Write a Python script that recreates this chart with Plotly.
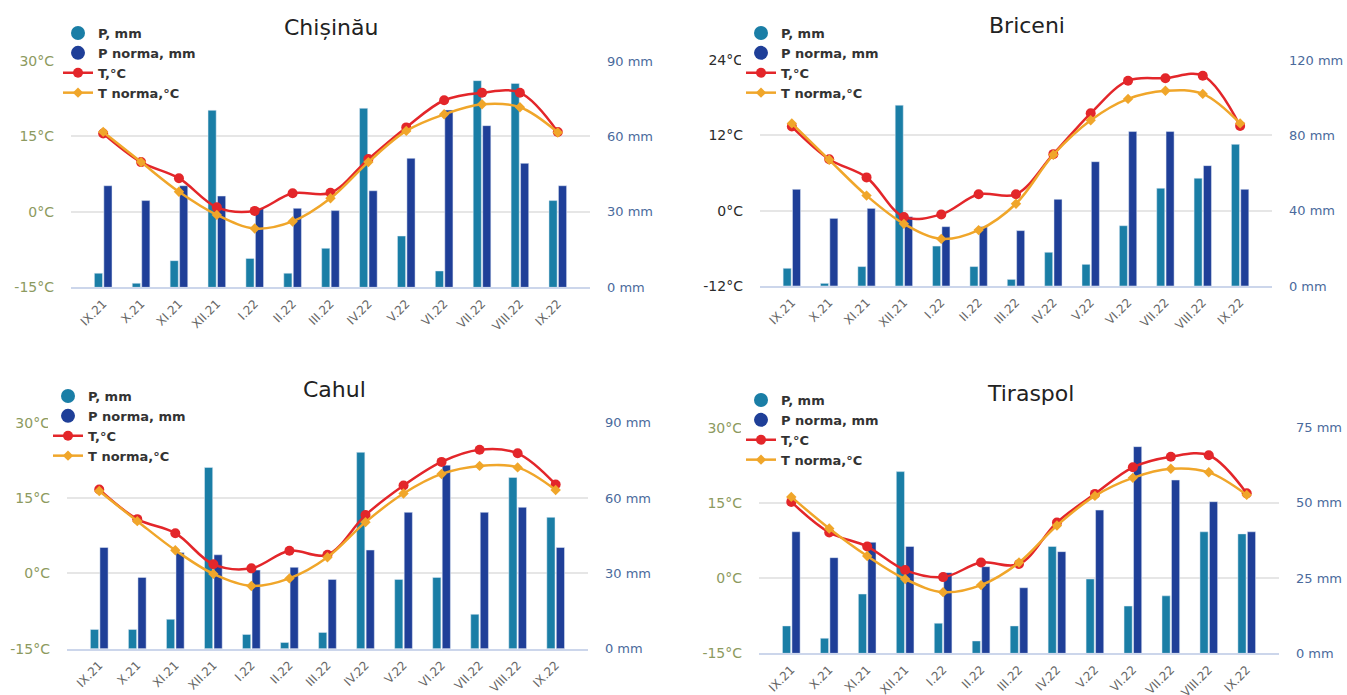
import plotly.graph_objects as go

# Months (Sep 2021 - Sep 2022)
months = ["IX.21", "X.21", "XI.21", "XII.21", "I.22", "II.22", "III.22",
          "IV.22", "V.22", "VI.22", "VII.22", "VIII.22", "IX.22"]

# Chișinău
chis_p = [5.6, 1.6, 10.6, 70.4, 11.5, 5.6, 15.5, 71.2, 20.4, 6.5, 82.2, 81.1, 34.5]
chis_pn = [40.4, 34.5, 40.4, 36.3, 31.4, 31.4, 30.5, 38.4, 51.3, 70.5, 64.3, 49.3, 40.4]
chis_t = [15.6, 9.9, 6.7, 0.9, 0.2, 3.7, 3.8, 10.5, 16.8, 22.2, 23.7, 23.7, 15.9]
chis_tn = [15.9, 9.9, 4.0, -0.6, -3.3, -1.9, 2.7, 9.9, 16.1, 19.4, 21.4, 20.8, 15.8]

# Briceni
bric_p = [9.4, 1.4, 10.3, 96.0, 21.2, 10.3, 3.5, 17.9, 11.5, 32.0, 51.9, 57.2, 75.2]
bric_pn = [51.3, 35.9, 41.2, 36.8, 31.5, 31.5, 29.4, 46.0, 66.0, 82.0, 82.0, 63.9, 51.3]
bric_t = [13.4, 8.2, 5.3, -1.0, -0.6, 2.6, 2.6, 9.0, 15.5, 20.7, 21.1, 21.5, 13.5]
bric_tn = [13.9, 8.1, 2.4, -2.1, -4.5, -3.1, 1.1, 8.9, 14.4, 17.8, 19.1, 18.6, 13.9]

# Cahul
cahul_p = [7.7, 7.7, 11.7, 72.2, 5.7, 2.5, 6.5, 78.2, 27.6, 28.4, 13.7, 68.2, 52.3]
cahul_pn = [40.3, 28.4, 38.3, 37.4, 31.3, 32.4, 27.6, 39.3, 54.3, 73.1, 54.3, 56.3, 40.3]
cahul_t = [16.7, 10.8, 8.0, 1.8, 1.0, 4.5, 3.7, 11.6, 17.5, 22.2, 24.6, 23.9, 17.7]
cahul_tn = [16.4, 10.4, 4.6, -0.1, -2.5, -1.0, 3.2, 10.2, 15.9, 19.8, 21.4, 21.1, 16.6]

# Tiraspol
tir_p = [9.1, 5.0, 19.7, 60.4, 10.0, 4.1, 9.1, 35.5, 24.7, 15.7, 19.1, 40.4, 39.7]
tir_pn = [40.4, 31.8, 36.9, 35.5, 26.8, 28.8, 21.8, 33.8, 47.6, 68.7, 57.6, 50.4, 40.4]
tir_t = [15.2, 9.1, 6.3, 1.6, 0.2, 3.1, 2.8, 11.1, 16.8, 22.1, 24.2, 24.5, 16.9]
tir_tn = [16.2, 9.9, 4.4, -0.2, -2.8, -1.4, 3.1, 10.5, 16.4, 20.0, 21.8, 21.1, 16.6]

# Axis ticks per station
t_ticks_a = [-15, 0, 15, 30]
t_text_a = ["-15°C", "0°C", "15°C", "30°C"]
t_ticks_b = [-12, 0, 12, 24]
t_text_b = ["-12°C", "0°C", "12°C", "24°C"]
p_ticks_90 = [0, 30, 60, 90]
p_text_90 = ["0 mm", "30 mm", "60 mm", "90 mm"]
p_ticks_120 = [0, 40, 80, 120]
p_text_120 = ["0 mm", "40 mm", "80 mm", "120 mm"]
p_ticks_75 = [0, 25, 50, 75]
p_text_75 = ["0 mm", "25 mm", "50 mm", "75 mm"]

C_P = "#1a7ea6"
C_PN = "#1f3f98"
C_T = "#e3262a"
C_TN = "#f0a62a"
FONT = "DejaVu Sans"

stations = [
    dict(name="Chișinău", p=chis_p, pn=chis_pn, t=chis_t, tn=chis_tn,
         tt=t_ticks_a, ttx=t_text_a, pt=p_ticks_90, ptx=p_text_90,
         tcol="#8c9a60", xd=[0.0527, 0.438], yd=[0.5866, 0.9122],
         title_xy=(331, 27), leg_xy=(58, 18)),
    dict(name="Briceni", p=bric_p, pn=bric_pn, t=bric_t, tn=bric_tn,
         tt=t_ticks_b, ttx=t_text_b, pt=p_ticks_120, ptx=p_text_120,
         tcol="#2b2b2b", xd=[0.5642, 0.9443], yd=[0.5885, 0.9137],
         title_xy=(1027, 25), leg_xy=(741, 18)),
    dict(name="Cahul", p=cahul_p, pn=cahul_pn, t=cahul_t, tn=cahul_tn,
         tt=t_ticks_a, ttx=t_text_a, pt=p_ticks_90, ptx=p_text_90,
         tcol="#8c9a60", xd=[0.0497, 0.4365], yd=[0.0666, 0.3918],
         title_xy=(334, 389), leg_xy=(48, 381)),
    dict(name="Tiraspol", p=tir_p, pn=tir_pn, t=tir_t, tn=tir_tn,
         tt=t_ticks_a, ttx=t_text_a, pt=p_ticks_75, ptx=p_text_75,
         tcol="#8c9a60", xd=[0.5635, 0.9495], yd=[0.060, 0.3846],
         title_xy=(1030, 393), leg_xy=(741, 385)),
]

W, H = 1347, 695
fig = go.Figure()
layout = dict(
    width=W, height=H, margin=dict(l=0, r=0, t=0, b=0, autoexpand=False),
    paper_bgcolor="white", plot_bgcolor="white",
    barmode="group", bargap=0.5, bargroupgap=0.14,
    font=dict(family=FONT, color="#333333"),
    annotations=[],
)

for i, s in enumerate(stations):
    k = i + 1
    xa = "x" if k == 1 else f"x{k}"
    ya_p = f"y{2 * k - 1}" if k > 1 else "y"
    ya_t = f"y{2 * k}"
    leg = "legend" if k == 1 else f"legend{k}"

    # Precipitation bars on the base (right) axis, temperature lines on the overlay
    fig.add_trace(go.Bar(x=months, y=s["p"], name="P, mm", marker_color=C_P,
                         xaxis=xa, yaxis=ya_p, showlegend=False, offsetgroup="a"))
    fig.add_trace(go.Bar(x=months, y=s["pn"], name="P norma, mm", marker_color=C_PN,
                         xaxis=xa, yaxis=ya_p, showlegend=False, offsetgroup="b"))
    fig.add_trace(go.Scatter(x=months, y=s["t"], name="T,°C", mode="lines+markers",
                             line=dict(color=C_T, width=2.5, shape="spline", smoothing=1),
                             marker=dict(color=C_T, size=10, symbol="circle"),
                             xaxis=xa, yaxis=ya_t, legend=leg, legendrank=3))
    fig.add_trace(go.Scatter(x=months, y=s["tn"], name="T norma,°C", mode="lines+markers",
                             line=dict(color=C_TN, width=2.5, shape="spline", smoothing=1),
                             marker=dict(color=C_TN, size=8, symbol="diamond"),
                             xaxis=xa, yaxis=ya_t, legend=leg, legendrank=4))
    # Legend entries for the bar series (round swatches)
    for nm, col, rk in [("P, mm", C_P, 1), ("P norma, mm", C_PN, 2)]:
        fig.add_trace(go.Scatter(x=[None], y=[None], name=nm, mode="markers",
                                 marker=dict(color=col, size=14, symbol="circle"),
                                 xaxis=xa, yaxis=ya_t, legend=leg, legendrank=rk))

    xkey = "xaxis" if k == 1 else f"xaxis{k}"
    ypkey = "yaxis" if k == 1 else f"yaxis{2 * k - 1}"
    ytkey = f"yaxis{2 * k}"
    layout[xkey] = dict(
        domain=s["xd"], anchor=ya_p, type="category", automargin=False,
        tickangle=-45, tickfont=dict(size=12, color="#666666", family=FONT),
        showline=True, linecolor="#ccd6eb", linewidth=1.5,
        showgrid=False, ticks="", ticklabelstandoff=3,
    )
    layout[ypkey] = dict(
        domain=s["yd"], anchor=xa, side="right", automargin=False,
        range=[s["pt"][0], s["pt"][-1]], tickvals=s["pt"], ticktext=s["ptx"],
        tickfont=dict(size=13, color="#4a6a9c", family=FONT),
        showgrid=True, gridcolor="#e6e6e6", gridwidth=1.5, zeroline=False,
        ticklabelstandoff=16,
    )
    layout[ytkey] = dict(
        overlaying=ya_p, anchor=xa, side="left", automargin=False,
        range=[s["tt"][0], s["tt"][-1]], tickvals=s["tt"], ticktext=s["ttx"],
        tickfont=dict(size=14, color=s["tcol"], family=FONT),
        showgrid=False, zeroline=False, ticklabelstandoff=16,
    )
    lx, ly = s["leg_xy"]
    layout[leg] = dict(
        x=lx / W, y=1 - ly / H, xanchor="left", yanchor="top",
        bgcolor="white", borderwidth=0,
        font=dict(size=13, color="#333333", family=FONT, weight="bold"),
        tracegroupgap=0, itemwidth=30, traceorder="normal",
    )
    tx, ty = s["title_xy"]
    layout["annotations"].append(dict(
        text=s["name"], x=tx / W, y=1 - ty / H, xref="paper", yref="paper",
        xanchor="center", yanchor="middle", showarrow=False,
        font=dict(size=22, color="#222222", family=FONT),
    ))

fig.update_layout(**layout)
fig.write_html("out.html")
